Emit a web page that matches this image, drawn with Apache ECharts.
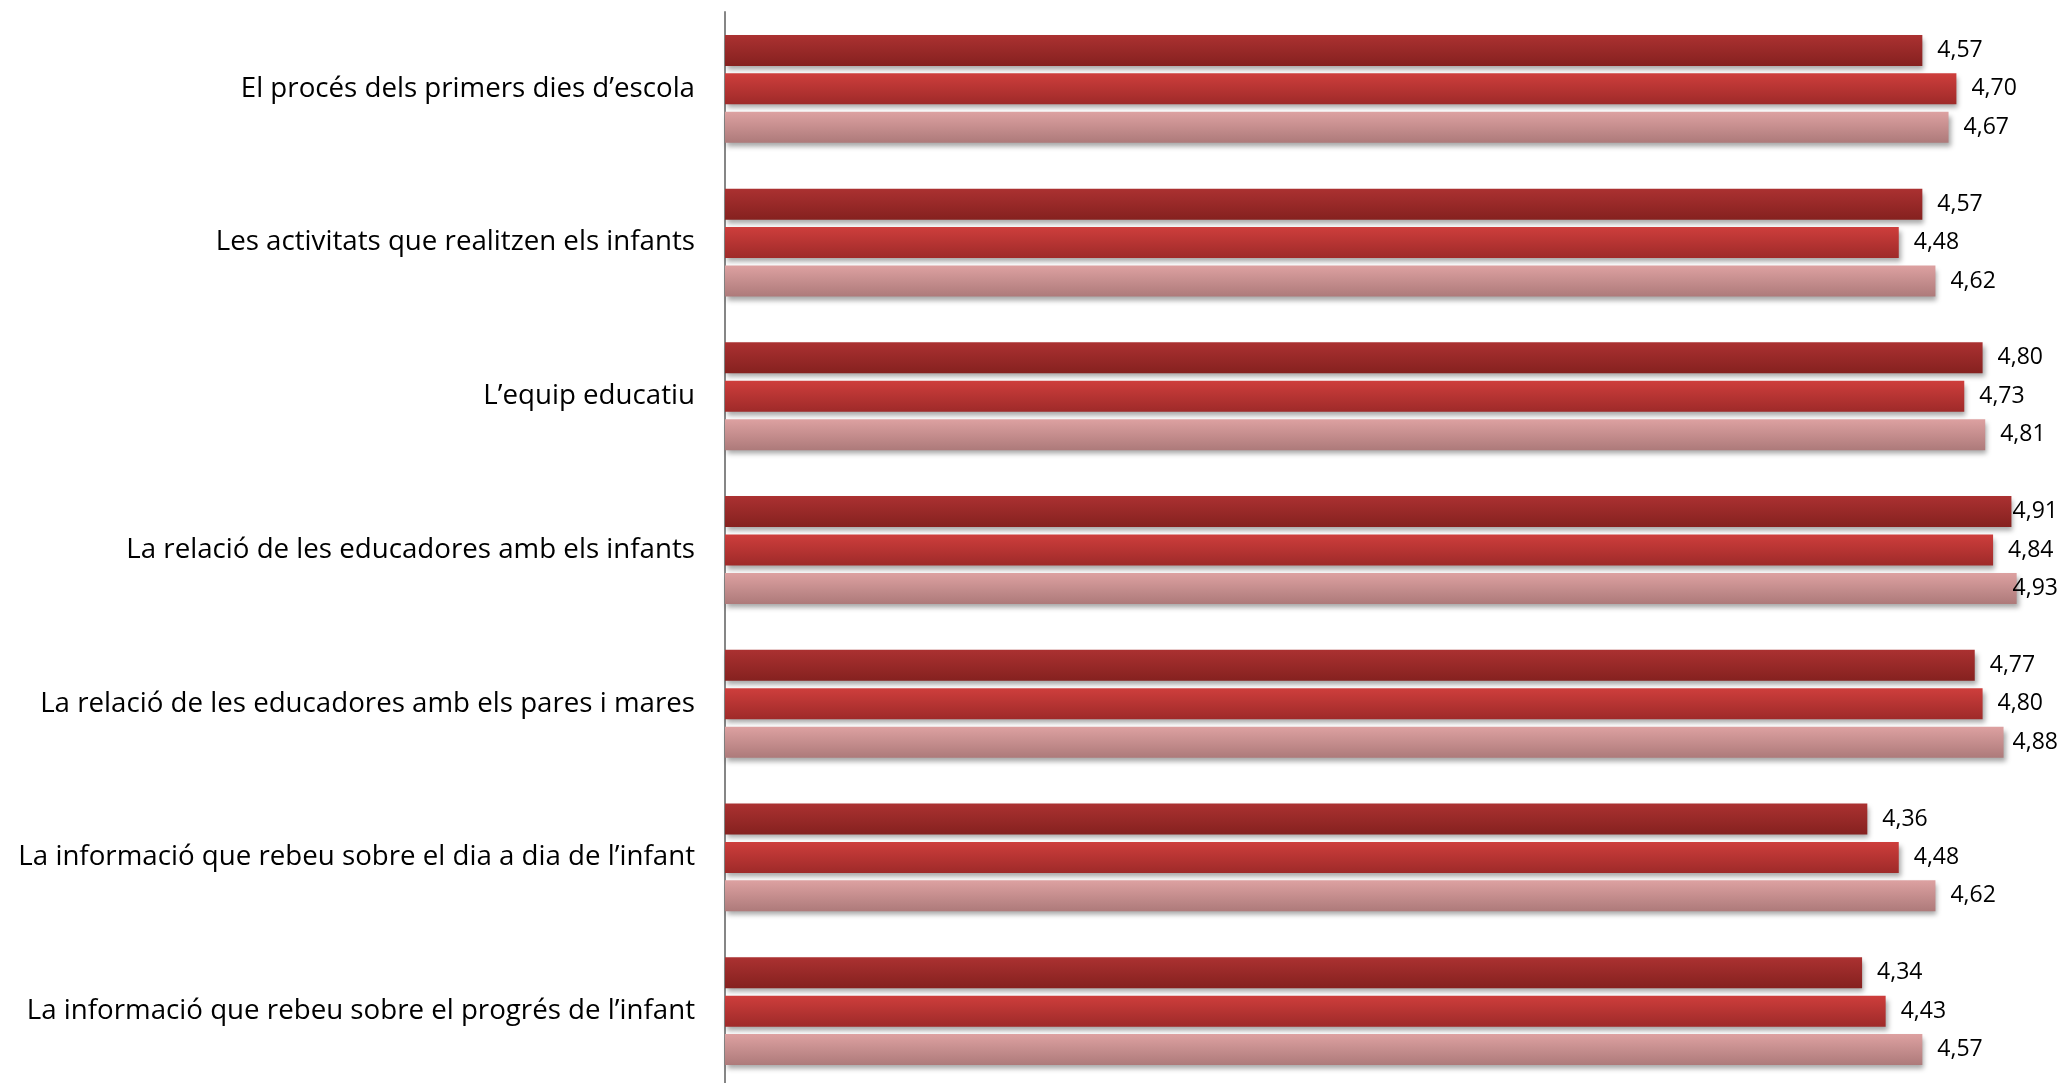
<!DOCTYPE html>
<html>
<head>
<meta charset="utf-8">
<script src="https://cdn.jsdelivr.net/npm/echarts@6/dist/echarts.min.js"></script>
<style>
  html, body { margin: 0; padding: 0; background: #fff; }
  #chart { width: 2060px; height: 1083px; }
</style>
</head>
<body>
<div id="chart"></div>
<script>
// categories, top to bottom
var categories = [
  'El procés dels primers dies d’escola',
  'Les activitats que realitzen els infants',
  'L’equip educatiu',
  'La relació de les educadores amb els infants',
  'La relació de les educadores amb els pares i mares',
  'La informació que rebeu sobre el dia a dia de l’infant',
  'La informació que rebeu sobre el progrés de l’infant'
];
var seriesNames = ['Sèrie 1', 'Sèrie 2', 'Sèrie 3'];
var serie1 = [4.57, 4.57, 4.80, 4.91, 4.77, 4.36, 4.34];
var serie2 = [4.70, 4.48, 4.73, 4.84, 4.80, 4.48, 4.43];
var serie3 = [4.67, 4.62, 4.81, 4.93, 4.88, 4.62, 4.57];

var myChart = echarts.init(document.getElementById('chart'));

// degradat vertical de cada barra
function grad(top, bottom) {
  return new echarts.graphic.LinearGradient(0, 0, 0, 1, [
    { offset: 0, color: top },
    { offset: 1, color: bottom }
  ]);
}

function makeSeries(name, data, top, bottom) {
  return {
    name: name,
    type: 'bar',
    data: data,
    barWidth: 31,
    barGap: '24%',
    itemStyle: {
      color: grad(top, bottom),
      shadowColor: 'rgba(0,0,0,0.35)',
      shadowBlur: 5,
      shadowOffsetX: 2,
      shadowOffsetY: 4
    },
    label: {
      show: true,
      position: 'right',
      distance: 15,
      color: '#000',
      fontFamily: 'Open Sans',
      fontSize: 23,
      formatter: function (p) {
        return p.value.toFixed(2).replace('.', ',');
      }
    },
    // les etiquetes no poden sortir del quadre
    labelLayout: function (p) {
      var r = p.labelRect;
      if (r.x + r.width > 2058) {
        return {
          x: 2058 - r.width,
          y: r.y + r.height / 2,
          align: 'left',
          verticalAlign: 'middle'
        };
      }
      return {};
    }
  };
}

var option = {
  animation: false,
  backgroundColor: '#fff',
  grid: {
    left: 725,
    width: 1310,
    top: 12,
    height: 1076,
    containLabel: false,
    outerBoundsMode: 'none'
  },
  xAxis: {
    type: 'value',
    min: 0,
    max: 5,
    show: false
  },
  yAxis: {
    type: 'category',
    inverse: true,
    data: categories,
    axisTick: { show: false },
    axisLine: { lineStyle: { color: '#868686', width: 2 } },
    axisLabel: {
      margin: 30,
      color: '#000',
      fontFamily: 'Open Sans',
      fontSize: 27.7
    }
  },
  series: [
    makeSeries(seriesNames[0], serie1, '#ab3131', '#85211f'),
    makeSeries(seriesNames[1], serie2, '#ce3e3c', '#9e2a29'),
    makeSeries(seriesNames[2], serie3, '#dda1a1', '#ad7a7a')
  ]
};

myChart.setOption(option);
</script>
</body>
</html>
